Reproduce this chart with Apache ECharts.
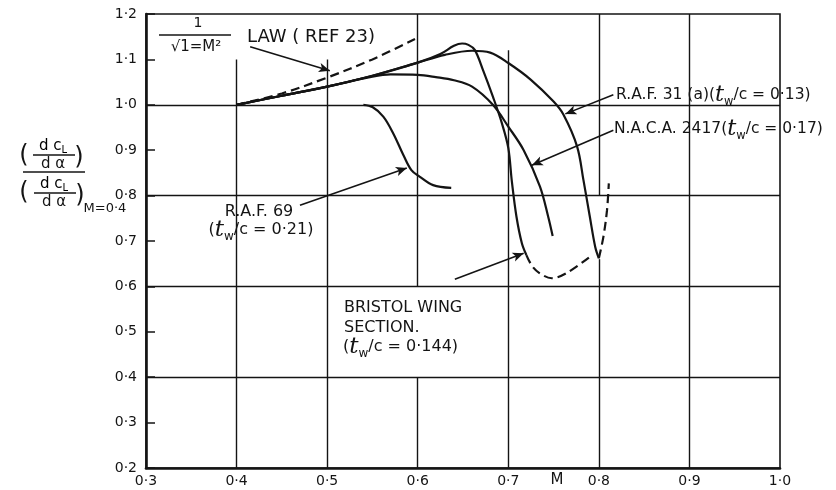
<!DOCTYPE html>
<html>
<head>
<meta charset="utf-8">
<script src="https://cdn.jsdelivr.net/npm/echarts@6/dist/echarts.min.js"></script>
<style>
  html, body { margin: 0; padding: 0; background: #fff; }
  #chart { width: 836px; height: 490px; }
</style>
</head>
<body>
<div id="chart"></div>
<script>
// Mach number axis and lift-slope ratio axis
const xMin = 0.3, xMax = 1.0, xStep = 0.1;
const yMin = 0.2, yMax = 1.2, yStep = 0.1;

// Ratio (dCL/dα) / (dCL/dα)M=0.4 against Mach number M
const lawCurve   = [[0.4,1.0],[0.45,1.025],[0.5,1.06],[0.55,1.10],[0.597,1.145]];
const raf31      = [[0.4,1.0],[0.45,1.02],[0.5,1.04],[0.55,1.064],[0.6,1.093],[0.63,1.11],[0.66,1.119],[0.68,1.115],[0.7,1.092],[0.725,1.055],[0.75,1.007],[0.761,0.978],[0.776,0.908],[0.783,0.834],[0.79,0.754],[0.796,0.687],[0.8,0.662]];
const raf31Ext   = [[0.8,0.662],[0.805,0.709],[0.809,0.768],[0.811,0.827]];
const naca2417   = [[0.4,1.0],[0.45,1.02],[0.5,1.04],[0.55,1.062],[0.57,1.067],[0.6,1.066],[0.62,1.061],[0.64,1.054],[0.66,1.04],[0.683,1.0],[0.7,0.952],[0.717,0.9],[0.735,0.82],[0.744,0.754],[0.749,0.711]];
const bristol    = [[0.4,1.0],[0.45,1.02],[0.5,1.04],[0.55,1.064],[0.6,1.093],[0.625,1.112],[0.64,1.13],[0.649,1.135],[0.656,1.132],[0.663,1.121],[0.672,1.077],[0.683,1.018],[0.693,0.959],[0.7,0.905],[0.704,0.83],[0.709,0.754],[0.715,0.695],[0.72,0.669]];
const bristolExt = [[0.72,0.669],[0.727,0.643],[0.737,0.626],[0.748,0.618],[0.764,0.629],[0.79,0.665]];
const raf69      = [[0.54,1.0],[0.55,0.995],[0.562,0.974],[0.573,0.937],[0.584,0.89],[0.593,0.856],[0.602,0.842],[0.617,0.823],[0.637,0.817]];

// Ruled grid: full horizontal rules and the vertical rule segments
const hRules = [1.0, 0.8, 0.6, 0.4];
const vRules = [[0.4,1.1,0.2],[0.5,1.1,0.2],[0.6,1.2,0.6],[0.6,0.4,0.2],[0.7,1.12,0.2],[0.8,1.2,0.8],[0.8,0.66,0.2],[0.9,1.2,0.2]];

// Pointer arrows from the labels to the curves
const pointers = [
  [[0.415,1.128],[0.503,1.075]],
  [[0.470,0.779],[0.588,0.861]],
  [[0.816,1.022],[0.763,0.980]],
  [[0.816,0.944],[0.726,0.867]],
  [[0.641,0.616],[0.717,0.673]]
];

const INK = '#141414';
const FONT = '"DejaVu Sans", sans-serif';
const fmt = v => v.toFixed(1).replace('.', '·');

const chart = echarts.init(document.getElementById('chart'), null, { renderer: 'canvas' });

function twRich(size) {
  return {
    t: { fontFamily: '"DejaVu Serif", serif', fontStyle: 'italic', fontSize: size + 7, color: INK, lineHeight: 26, verticalAlign: 'middle' },
    w: { fontFamily: FONT, fontSize: size - 4, color: INK, lineHeight: 26, verticalAlign: 'bottom' },
    n: { fontFamily: FONT, fontSize: size, color: INK, lineHeight: 26, verticalAlign: 'middle' }
  };
}
function richTxt(x, y, text, size, align) {
  return {
    type: 'text', x: x, y: y,
    style: { text: text, rich: twRich(size), fontFamily: FONT, fontSize: size, fill: INK, align: align || 'left', verticalAlign: 'middle' }
  };
}
function seg(x1, y1, x2, y2, w) {
  return { type: 'line', shape: { x1: x1, y1: y1, x2: x2, y2: y2 }, style: { stroke: INK, lineWidth: w || 1.3 } };
}
function ptxt(x, y, text, size, align) {
  return { type: 'text', x: x, y: y, style: { text: text, fontFamily: FONT, fontSize: size, fill: INK, align: align || 'center', verticalAlign: 'middle' } };
}
function dcl(x, y) {
  return {
    type: 'text', x: x, y: y,
    style: {
      text: '{a|d c}{b|L}', align: 'center', verticalAlign: 'middle',
      rich: {
        a: { fontFamily: FONT, fontSize: 15, color: INK, lineHeight: 18, verticalAlign: 'middle' },
        b: { fontFamily: FONT, fontSize: 10, color: INK, lineHeight: 18, verticalAlign: 'bottom' }
      }
    }
  };
}

const curveLine = (name, data, dashed) => ({
  name: name, type: 'line', data: data, smooth: 0.35, symbol: 'none', silent: true,
  lineStyle: { color: INK, width: 2.2, type: dashed ? [9, 5] : 'solid' }, z: 5
});

const option = {
  backgroundColor: '#fff',
  animation: false,
  grid: { left: 146, right: 56, top: 14, bottom: 22, show: true, borderColor: INK, borderWidth: 1.6 },
  xAxis: {
    type: 'value', min: xMin, max: xMax, interval: xStep,
    axisLine: { show: true, lineStyle: { color: INK, width: 2.6 } },
    axisTick: { show: false },
    splitLine: { show: false },
    axisLabel: { formatter: fmt, color: INK, fontFamily: FONT, fontSize: 14, margin: 6 }
  },
  yAxis: {
    type: 'value', min: yMin, max: yMax, interval: yStep,
    axisLine: { show: true, lineStyle: { color: INK, width: 2.6 } },
    axisTick: { show: true, inside: true, length: 9, lineStyle: { color: INK, width: 1.5 } },
    splitLine: { show: false },
    axisLabel: { formatter: fmt, color: INK, fontFamily: FONT, fontSize: 14, margin: 9 }
  },
  series: [
    {
      name: 'rules', type: 'line', data: [], silent: true, z: 1,
      markLine: {
        silent: true, symbol: 'none', label: { show: false },
        lineStyle: { color: INK, width: 1.4, type: 'solid' },
        data: hRules.map(v => [{ coord: [xMin, v] }, { coord: [xMax, v] }])
          .concat(vRules.map(r => [{ coord: [r[0], r[1]] }, { coord: [r[0], r[2]] }]))
      }
    },
    {
      name: 'pointers', type: 'line', data: [], silent: true, z: 6,
      markLine: {
        silent: true, symbol: ['none', 'arrow'], symbolSize: [7, 11], label: { show: false },
        lineStyle: { color: INK, width: 1.6, type: 'solid' },
        data: pointers.map(p => [{ coord: p[0] }, { coord: p[1] }])
      }
    },
    curveLine('1/√(1−M²) law', lawCurve, true),
    curveLine('R.A.F. 31(a)', raf31, false),
    curveLine('R.A.F. 31(a) ext', raf31Ext, true),
    curveLine('N.A.C.A. 2417', naca2417, false),
    curveLine('Bristol wing section', bristol, false),
    curveLine('Bristol ext', bristolExt, true),
    curveLine('R.A.F. 69', raf69, false)
  ],
  graphic: [
    // law label
    ptxt(198, 23, '1', 14),
    seg(159, 35, 231, 35, 1.3),
    ptxt(196, 47, '√1=M²', 15),
    ptxt(247, 37, 'LAW ( REF 23)', 18, 'left'),
    // curve labels
    richTxt(616, 95, '{n|R.A.F. 31 (a)(}{t|t}{w|w}{n|/c = 0·13)}', 15.5),
    richTxt(614, 129, '{n|N.A.C.A. 2417(}{t|t}{w|w}{n|/c = 0·17)}', 15.5),
    ptxt(259, 212, 'R.A.F. 69', 16),
    richTxt(261, 230, '{n|(}{t|t}{w|w}{n|/c = 0·21)}', 16, 'center'),
    ptxt(344, 308, 'BRISTOL WING', 16, 'left'),
    ptxt(344, 328, 'SECTION.', 16, 'left'),
    richTxt(343, 347, '{n|(}{t|t}{w|w}{n|/c = 0·144)}', 16),
    // axis name
    ptxt(557, 480, 'M', 15),
    // y-axis title: (dCL/dα) / (dCL/dα)M=0.4
    ptxt(24, 156, '(', 24),
    dcl(53, 146),
    seg(33, 155, 75, 155, 1.3),
    ptxt(53, 164, 'd α', 15),
    ptxt(79, 158, ')', 24),
    seg(23, 172, 85, 172, 1.4),
    ptxt(24, 193, '(', 24),
    dcl(54, 184),
    seg(34, 193, 76, 193, 1.3),
    ptxt(54, 202, 'd α', 15),
    ptxt(80, 196, ')', 24),
    ptxt(105, 209, 'M=0·4', 13)
  ]
};

chart.setOption(option);
</script>
</body>
</html>
